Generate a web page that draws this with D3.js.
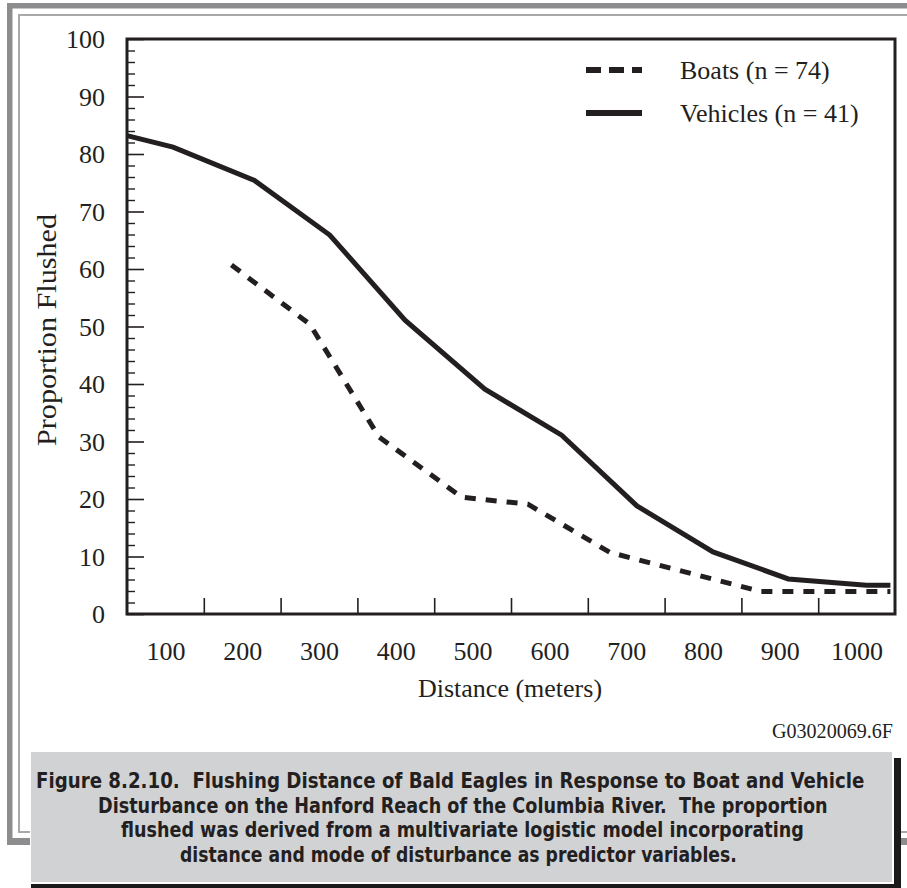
<!DOCTYPE html>
<html>
<head>
<meta charset="utf-8">
<script src="https://cdn.jsdelivr.net/npm/d3@7"></script>
<style>
  html, body { margin: 0; padding: 0; background: #ffffff; }
  svg { display: block; }
</style>
</head>
<body>
<div id="chart"></div>
<script>
// ---- Data ----
const vehicleDistance = [50, 110, 216, 314, 412, 516, 616, 714, 813, 911, 1013, 1044];
const vehicleFlushed  = [83.2, 81.2, 75.4, 65.9, 51.1, 39.1, 31.1, 18.8, 10.8, 6.1, 5.0, 5.0];
const boatDistance    = [186, 288, 378, 486, 572, 679, 876, 1044];
const boatFlushed     = [60.7, 50.4, 30.8, 20.3, 19.1, 10.7, 3.9, 3.9];

const yTickLabels = [0, 10, 20, 30, 40, 50, 60, 70, 80, 90, 100];
const yMinorTicks = [2,4,6,8,12,14,16,18,22,24,26,28,32,34,36,38,42,44,46,48,52,54,56,58,62,64,66,68,72,74,76,78,82,84,86,88,92,94,96,98];
const xTickLabels = [100, 200, 300, 400, 500, 600, 700, 800, 900, 1000];
const xTickMarks  = [150, 250, 350, 450, 550, 650, 750, 850, 950];

const seriesNames = ["Boats (n = 74)", "Vehicles (n = 41)"];
const captionLines = [
  "Figure 8.2.10.  Flushing Distance of Bald Eagles in Response to Boat and Vehicle",
  "Disturbance on the Hanford Reach of the Columbia River.  The proportion",
  "flushed was derived from a multivariate logistic model incorporating",
  "distance and mode of disturbance as predictor variables."
];
const figureCode = "G03020069.6F";

// ---- Layout ----
const W = 907, H = 888;
const plot = { left: 127, right: 895, top: 39, bottom: 614 };
const serif = "'Liberation Serif', 'Times New Roman', serif";
const ink = "#231f20";

const svg = d3.select("#chart").append("svg")
  .attr("width", W).attr("height", H)
  .attr("viewBox", `0 0 ${W} ${H}`);

svg.append("rect").attr("width", W).attr("height", H).attr("fill", "#ffffff");

// ---- Page frame ----
const frame = svg.append("g");
frame.append("rect").attr("x", 7).attr("y", 3).attr("width", W - 7).attr("height", 5.5).attr("fill", "#8d8d8f");
frame.append("rect").attr("x", 7).attr("y", 3).attr("width", 5.5).attr("height", 842).attr("fill", "#8d8d8f");
frame.append("rect").attr("x", 7).attr("y", 838).attr("width", W - 7).attr("height", 7).attr("fill", "#8d8d8f");
frame.append("path")
  .attr("d", `M${W},15 H19 V832 H${W}`)
  .attr("fill", "none").attr("stroke", "#a9a9ab").attr("stroke-width", 2);

// ---- Scales ----
const x = d3.scaleLinear().domain([50, 1050]).range([plot.left, plot.right]);
const y = d3.scaleLinear().domain([0, 100]).range([plot.bottom, plot.top]);

// ---- Plot frame ----
svg.append("rect")
  .attr("x", plot.left).attr("y", plot.top)
  .attr("width", plot.right - plot.left).attr("height", plot.bottom - plot.top)
  .attr("fill", "none").attr("stroke", ink).attr("stroke-width", 3);

// ---- Y axis ticks (inward) ----
const yMajor = svg.append("g").attr("transform", `translate(${plot.left},0)`)
  .call(d3.axisRight(y).tickValues(yTickLabels).tickSize(17).tickFormat(""));
yMajor.select(".domain").remove();
yMajor.selectAll("line").attr("stroke", ink).attr("stroke-width", 1.6);

const yMinor = svg.append("g").attr("transform", `translate(${plot.left},0)`)
  .call(d3.axisRight(y).tickValues(yMinorTicks).tickSize(8).tickFormat(""));
yMinor.select(".domain").remove();
yMinor.selectAll("line").attr("stroke", ink).attr("stroke-width", 1.4);

// Y labels
const yLab = svg.append("g").attr("transform", `translate(${plot.left},0)`)
  .call(d3.axisLeft(y).tickValues(yTickLabels).tickSize(0).tickPadding(22).tickFormat(d3.format("d")));
yLab.select(".domain").remove();
yLab.selectAll("text")
  .attr("font-family", serif).attr("font-size", 26).attr("fill", ink)
  .attr("dy", "0.34em");

// ---- X axis ticks (inward, between labels) ----
const xMarks = svg.append("g").attr("transform", `translate(0,${plot.bottom})`)
  .call(d3.axisTop(x).tickValues(xTickMarks).tickSize(16).tickFormat(""));
xMarks.select(".domain").remove();
xMarks.selectAll("line").attr("stroke", ink).attr("stroke-width", 1.6);

const xLab = svg.append("g").attr("transform", `translate(0,${plot.bottom})`)
  .call(d3.axisBottom(x).tickValues(xTickLabels).tickSize(0).tickPadding(0).tickFormat(d3.format("d")));
xLab.select(".domain").remove();
xLab.selectAll("text")
  .attr("font-family", serif).attr("font-size", 26).attr("fill", ink)
  .attr("y", 46).attr("dy", 0);

// Axis titles
svg.append("text")
  .attr("x", 510).attr("y", 697)
  .attr("text-anchor", "middle")
  .attr("font-family", serif).attr("font-size", 26).attr("fill", ink)
  .text("Distance (meters)");

svg.append("text")
  .attr("transform", `translate(56,330) rotate(-90)`)
  .attr("text-anchor", "middle")
  .attr("font-family", serif).attr("font-size", 27).attr("fill", ink)
  .attr("textLength", 232).attr("lengthAdjust", "spacingAndGlyphs")
  .text("Proportion Flushed");

// ---- Lines ----
const line = d3.line().x(d => x(d[0])).y(d => y(d[1]));
const vehicleData = vehicleDistance.map((d, i) => [d, vehicleFlushed[i]]);
const boatData = boatDistance.map((d, i) => [d, boatFlushed[i]]);

svg.append("path").datum(boatData)
  .attr("d", line).attr("fill", "none")
  .attr("stroke", ink).attr("stroke-width", 5)
  .attr("stroke-dasharray", "11,10");

svg.append("path").datum(vehicleData)
  .attr("d", line).attr("fill", "none")
  .attr("stroke", ink).attr("stroke-width", 5);

// ---- Legend ----
const legend = svg.append("g");
const legendRows = [
  { name: seriesNames[0], dash: "15,8", yPos: 70 },
  { name: seriesNames[1], dash: null, yPos: 113 }
];
legendRows.forEach(r => {
  legend.append("line")
    .attr("x1", 586).attr("x2", 642).attr("y1", r.yPos).attr("y2", r.yPos)
    .attr("stroke", ink).attr("stroke-width", 6)
    .attr("stroke-dasharray", r.dash);
  legend.append("text")
    .attr("x", 680).attr("y", r.yPos + 9)
    .attr("font-family", serif).attr("font-size", 26).attr("fill", ink)
    .text(r.name);
});

// ---- Figure code ----
svg.append("text")
  .attr("x", 893).attr("y", 738)
  .attr("text-anchor", "end")
  .attr("font-family", serif).attr("font-size", 21).attr("fill", ink)
  .attr("textLength", 121).attr("lengthAdjust", "spacingAndGlyphs")
  .text(figureCode);

// ---- Caption box ----
svg.append("rect").attr("x", 31).attr("y", 758).attr("width", 870).attr("height", 130).attr("fill", "#1a1a1a");
svg.append("rect").attr("x", 30).attr("y", 751).attr("width", 864).attr("height", 133).attr("fill", "#ffffff");
svg.append("rect").attr("x", 31).attr("y", 752).attr("width", 861).attr("height", 130).attr("fill", "#d1d2d4");

const capStarts = [36, 98, 121, 180];
const capWidths = [829, 730, 683, 557];
const capG = svg.append("g");
captionLines.forEach((txt, i) => {
  const t = capG.append("text")
    .attr("x", 0).attr("y", 0)
    .attr("font-family", "'DejaVu Sans Condensed', 'DejaVu Sans', sans-serif")
    .attr("font-weight", "bold")
    .attr("font-stretch", "condensed")
    .attr("font-size", 22)
    .attr("fill", "#231f20")
    .attr("xml:space", "preserve")
    .text(txt);
  const natural = t.node().getComputedTextLength() || capWidths[i];
  const sx = capWidths[i] / natural;
  t.attr("transform", `translate(${capStarts[i]},${788 + i * 24.5}) scale(${sx},1)`);
});
</script>
</body>
</html>
